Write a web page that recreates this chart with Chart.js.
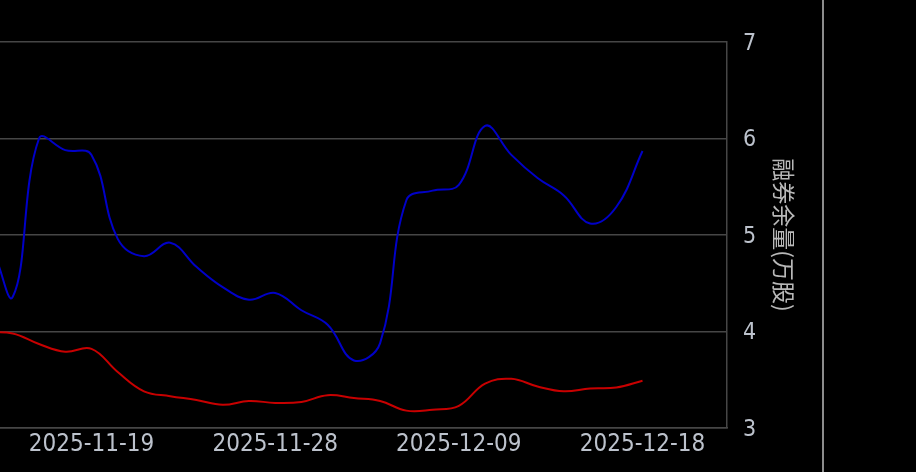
<!DOCTYPE html>
<html>
<head>
<meta charset="utf-8">
<script src="https://cdn.jsdelivr.net/npm/chart.js@4.4.1/dist/chart.umd.min.js"></script>
<style>
  html, body { margin: 0; padding: 0; background: #000; overflow: hidden; }
  #wrap { position: relative; width: 822px; height: 472px; border-right: 2px solid #8c8c8c; }
</style>
</head>
<body>
<div id="wrap"><canvas id="marginChart"></canvas></div>
<script>
const dates = [
  '2025-11-12', '2025-11-13', '2025-11-14', '2025-11-17', '2025-11-18', '2025-11-19',
  '2025-11-20', '2025-11-21', '2025-11-24', '2025-11-25', '2025-11-26', '2025-11-27',
  '2025-11-28', '2025-12-01', '2025-12-02', '2025-12-03', '2025-12-04', '2025-12-05',
  '2025-12-08', '2025-12-09', '2025-12-10', '2025-12-11', '2025-12-12', '2025-12-15',
  '2025-12-16', '2025-12-17', '2025-12-18'
];
// 融券余量 (万股)
const shortBalance = [5.0, 4.95, 4.36, 6.0, 5.88, 5.83, 4.96, 4.78, 4.92, 4.67, 4.46, 4.33, 4.40,
  4.22, 4.07, 3.70, 3.88, 5.36, 5.46, 5.52, 6.13, 5.83, 5.59, 5.41, 5.12, 5.29, 5.87];
const priceLine = [3.99, 3.99, 3.98, 3.87, 3.79, 3.82, 3.58, 3.38, 3.33, 3.29, 3.24, 3.28, 3.26,
  3.27, 3.34, 3.31, 3.28, 3.18, 3.19, 3.23, 3.46, 3.51, 3.43, 3.38, 3.41, 3.42, 3.49];
const xTickIndex = [5, 12, 19, 26];
const yTicks = [3, 4, 5, 6, 7];

const gridColor = '#464646';
const labelColor = '#bcc2cc';

function toPoints(values) {
  return values.map((v, i) => ({ x: i, y: v }));
}

function initializeChart(chartId) {
  const ctx = document.getElementById(chartId).getContext('2d');

  return new Chart(ctx, {
    type: 'line',
    data: {
      datasets: [{
        label: '融券余量',
        data: toPoints(shortBalance),
        borderColor: '#0000c8',
        borderWidth: 2,
        pointRadius: 0,
        tension: 0.4
      }, {
        label: 'price',
        data: toPoints(priceLine),
        borderColor: '#c80000',
        borderWidth: 2,
        pointRadius: 0,
        tension: 0.4
      }]
    },
    options: {
      responsive: true,
      maintainAspectRatio: false,
      animation: false,
      layout: { padding: { top: 42, left: 0, right: 0, bottom: 0 } },
      scales: {
        x: {
          type: 'linear',
          min: 1.513,
          max: 29.22,
          grid: { drawOnChartArea: false, drawTicks: false },
          border: { display: true, color: gridColor, width: 1.5 },
          afterBuildTicks: (axis) => { axis.ticks = xTickIndex.map(v => ({ value: v })); },
          afterFit: (axis) => { axis.height = 44; axis.paddingLeft = 0; axis.paddingRight = 0; },
          ticks: {
            autoSkip: false,
            maxRotation: 0,
            padding: 2,
            color: labelColor,
            font: { family: '"DejaVu Sans Condensed", "Noto Sans", sans-serif', size: 24, lineHeight: 1.2 },
            callback: (value) => dates[value]
          }
        },
        y: {
          position: 'right',
          min: 3,
          max: 7,
          grid: { color: gridColor, lineWidth: 1.5, drawTicks: false },
          border: { display: true, color: gridColor, width: 1.5 },
          afterBuildTicks: (axis) => { axis.ticks = yTicks.map(v => ({ value: v })); },
          afterFit: (axis) => { axis.width = 95; axis.paddingTop = 0; axis.paddingBottom = 0; },
          ticks: {
            padding: 16,
            labelOffset: 2,
            color: labelColor,
            font: { family: '"DejaVu Sans Condensed", "Noto Sans", sans-serif', size: 23 }
          },
          title: {
            display: true,
            text: '融券余量(万股)',
            color: '#b8b8b8',
            padding: { top: 24, bottom: 0 },
            font: { family: '"Noto Sans CJK SC", sans-serif', size: 23, lineHeight: 1.2 }
          }
        }
      },
      plugins: {
        legend: { display: false },
        tooltip: { enabled: false }
      }
    }
  });
}

const marginChart = initializeChart('marginChart');
</script>
</body>
</html>
